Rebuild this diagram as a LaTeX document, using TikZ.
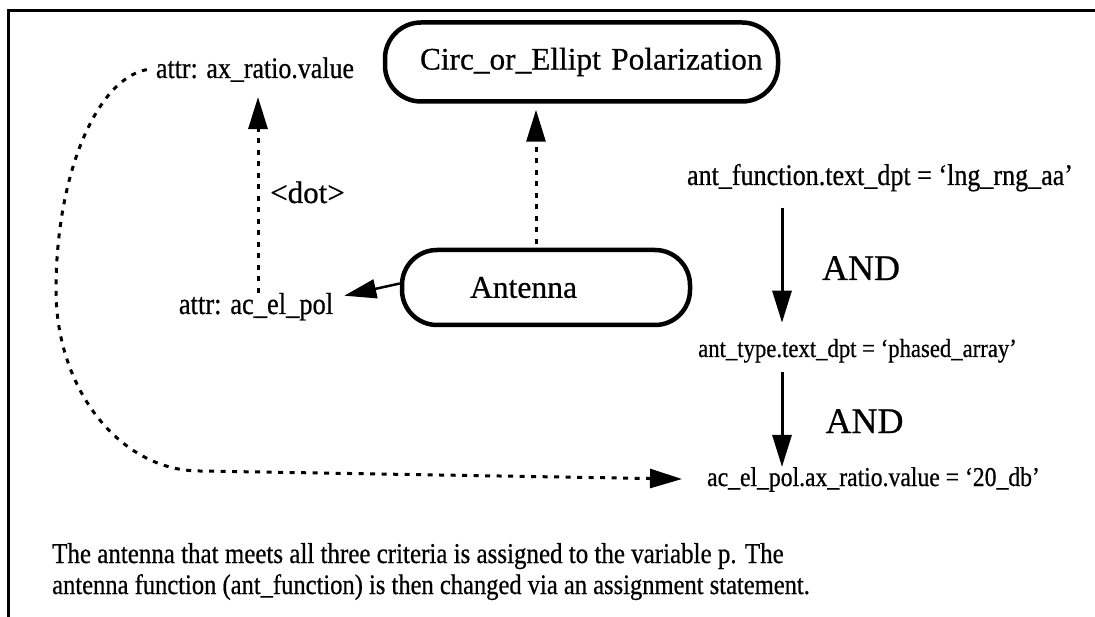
\documentclass[tikz,border=0pt]{standalone}
\usepackage{fontspec}
\setmainfont[FakeBold=0.6]{Liberation Serif}
\newfontfamily\condfont[FakeStretch=0.87,FakeBold=0.6]{Liberation Serif}
\usetikzlibrary{arrows.meta}
\tikzset{
  lbl/.style={inner sep=0pt, anchor=base},
  roundbox/.style={draw, line width=4.5pt, inner sep=0pt, align=left},
  headtip/.style={-{Triangle[length=32pt,width=19pt]}},
  dotln/.style={line width=3pt, dash pattern=on 5pt off 6.5pt},
  solidln/.style={line width=3pt},
  framel/.style={line width=3pt}
}
\begin{document}
\begin{tikzpicture}[x=1pt,y=-1pt]
\useasboundingbox (0,0) rectangle (1095,617);
% frame
\draw[framel] (1095,11) -- (8,11) -- (8,617);

% boxes
\node[roundbox, rounded corners=36pt, text width=393pt, minimum height=79pt, font=\fontsize{31.3}{36}\selectfont] (circ) at (581.5,62) {\hspace*{35pt}Circ\_or\_Ellipt Polarization};
\node[roundbox, rounded corners=35pt, text width=288pt, minimum height=75pt, font=\fontsize{31.6}{36}\selectfont] (ant) at (546,287.5) {\hspace*{68pt}Antenna};

% labels
\node[lbl, font=\condfont\fontsize{29.8}{34}\selectfont] (axr) at (255,78) {attr: ax\_ratio.value};
\node[lbl, font=\condfont\fontsize{30.4}{34}\selectfont] (acp) at (256,314) {attr: ac\_el\_pol};
\node[lbl, font=\fontsize{31}{34}\selectfont] (dot) at (307.5,203) {<dot>};
\node[lbl, font=\condfont\fontsize{29.95}{34}\selectfont] (fn) at (880,185) {ant\_function.text\_dpt = ‘lng\_rng\_aa’};
\node[lbl, font=\condfont\fontsize{26.1}{30}\selectfont] (ty) at (857.5,357) {ant\_type.text\_dpt = ‘phased\_array’};
\node[lbl, font=\condfont\fontsize{27.2}{30}\selectfont] (acv) at (873.5,486) {ac\_el\_pol.ax\_ratio.value = ‘20\_db’};
\node[lbl, font=\fontsize{36}{40}\selectfont] (and1) at (861,280) {AND};
\node[lbl, font=\fontsize{36}{40}\selectfont] (and2) at (864.5,433) {AND};

% bottom text
\node[lbl, anchor=base west, font=\condfont\fontsize{28.7}{32}\selectfont] (txt1) at (52,563) {The antenna that meets all three criteria is assigned to the variable p. The};
\node[lbl, anchor=base west, font=\condfont\fontsize{28.2}{32}\selectfont] (txt2) at (52,594) {antenna function (ant\_function) is then changed via an assignment statement.};

% helper columns
\coordinate (c1) at (536,0);
\coordinate (c2) at (258,0);
\coordinate (c3) at (782,0);

% connectors
\draw[headtip, dotln, shorten <=4pt, shorten >=6pt] (ant.north -| c1) -- (circ.south -| c1);
\draw[headtip, dotln, shorten >=15pt] (acp.north -| c2) -- (axr.south -| c2);
\draw[headtip, line width=2.5pt] ([yshift=4pt]ant.west) -- ([xshift=11pt,yshift=-3pt]acp.north east);
\draw[headtip, solidln, shorten <=16pt, shorten >=16pt] (fn.south -| c3) -- (ty.north -| c3);
\draw[headtip, solidln, shorten <=9pt] (ty.south -| c3) -- (acv.north -| c3);
\draw[headtip, dotln, shorten >=25pt] ([xshift=-9pt]axr.west) .. controls (97,79) and (56,173.5) .. (56,290)
   .. controls (56,390) and (120.5,471) .. (200,471) -- (acv.west);
\end{tikzpicture}
\end{document}
